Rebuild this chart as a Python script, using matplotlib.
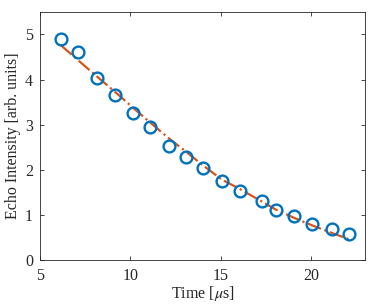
import numpy as np
import matplotlib
matplotlib.use("Agg")
import matplotlib.pyplot as plt

# measured echo intensity
time_us = [6.16, 7.08, 8.15, 9.18, 10.14, 11.10, 12.13, 13.10, 14.02,
           15.09, 16.09, 17.28, 18.06, 19.05, 20.07, 21.17, 22.13]
echo = [4.89, 4.61, 4.04, 3.66, 3.25, 2.96, 2.53, 2.29, 2.04,
        1.75, 1.54, 1.31, 1.10, 0.97, 0.80, 0.69, 0.58]

# fitted curve, read at the same times
fit = [4.76, 4.44, 4.07, 3.72, 3.38, 3.05, 2.70, 2.40, 2.10,
       1.78, 1.57, 1.30, 1.12, 0.94, 0.77, 0.60, 0.46]

xticks = [5, 10, 15, 20]
yticks = [0, 1, 2, 3, 4, 5]

plt.rcParams['font.family'] = ['Liberation Serif', 'DejaVu Serif']
plt.rcParams['mathtext.fontset'] = 'stix'

fig = plt.figure(figsize=(3.74, 3.06), dpi=100)
ax = fig.add_axes([0.107, 0.150, 0.869, 0.811])

ax.plot(time_us, fit, color='#D95319', linestyle='-.', linewidth=1.6, zorder=2)
ax.plot(time_us, echo, linestyle='none', marker='o', markersize=8.5,
        markerfacecolor='none', markeredgecolor='#0072BD', markeredgewidth=1.7, zorder=3)

ax.set_xlim(5, 23)
ax.set_ylim(0, 5.5)
ax.set_xticks(xticks)
ax.set_yticks(yticks)
ax.tick_params(direction='in', top=True, right=True, length=3, width=0.6,
               colors='#262626', labelsize=11.5)
ax.tick_params(axis='x', pad=6)
ax.tick_params(axis='y', pad=5)
for s in ax.spines.values():
    s.set_linewidth(0.6)
    s.set_color('#262626')

ax.set_xlabel(r'Time [$\mu$s]', fontsize=11.5, color='#262626', labelpad=0)
ax.set_ylabel('Echo Intensity [arb. units]', fontsize=11.5, color='#262626', labelpad=3)

fig.savefig('out.png', dpi=100)
